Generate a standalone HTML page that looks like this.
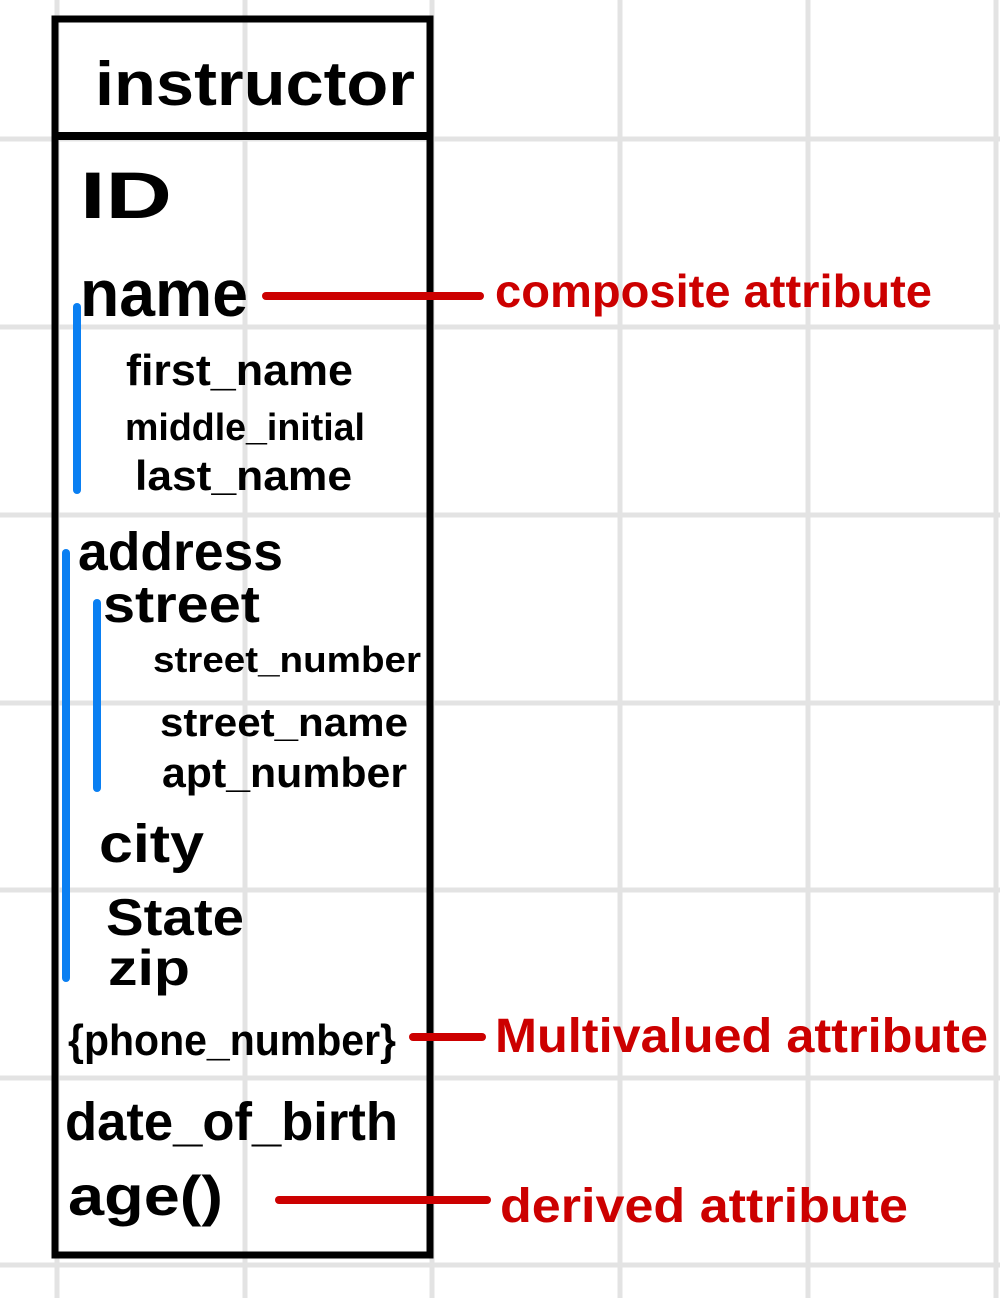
<!DOCTYPE html>
<html><head><style>
html,body{margin:0;padding:0;background:#fff;}
svg{display:block;}
text{font-family:"Liberation Sans",sans-serif;font-weight:bold;}
</style></head><body>
<svg width="1000" height="1298" viewBox="0 0 1000 1298" xmlns="http://www.w3.org/2000/svg">
<g stroke="#e3e3e3" stroke-width="5">
<line x1="57" y1="0" x2="57" y2="1298"/><line x1="245" y1="0" x2="245" y2="1298"/>
<line x1="432" y1="0" x2="432" y2="1298"/><line x1="620" y1="0" x2="620" y2="1298"/>
<line x1="808" y1="0" x2="808" y2="1298"/><line x1="996" y1="0" x2="996" y2="1298"/>
<line x1="0" y1="139" x2="1000" y2="139"/><line x1="0" y1="327" x2="1000" y2="327"/>
<line x1="0" y1="515" x2="1000" y2="515"/><line x1="0" y1="703" x2="1000" y2="703"/>
<line x1="0" y1="890" x2="1000" y2="890"/><line x1="0" y1="1078" x2="1000" y2="1078"/>
<line x1="0" y1="1265" x2="1000" y2="1265"/>
</g>
<rect x="55" y="19" width="375" height="1236" fill="none" stroke="#000" stroke-width="7"/>
<line x1="55" y1="136" x2="433" y2="136" stroke="#000" stroke-width="8"/>
<g stroke="#0a7ff2" stroke-width="8" stroke-linecap="round">
<line x1="77" y1="307" x2="77" y2="490"/>
<line x1="66" y1="553" x2="66" y2="978"/>
<line x1="97" y1="603" x2="97" y2="788"/>
</g>
<g stroke="#cc0000" stroke-width="8" stroke-linecap="round">
<line x1="266" y1="296" x2="480" y2="296"/>
<line x1="413" y1="1037" x2="482" y2="1037"/>
<line x1="279" y1="1200" x2="487" y2="1200"/>
</g>
<g fill="#000">
<text x="95" y="105" font-size="62" textLength="320" lengthAdjust="spacingAndGlyphs">instructor</text>
<text x="80" y="218" font-size="66" textLength="92" lengthAdjust="spacingAndGlyphs">ID</text>
<text x="80" y="316" font-size="66" textLength="168" lengthAdjust="spacingAndGlyphs">name</text>
<text x="126" y="385" font-size="44" textLength="227" lengthAdjust="spacingAndGlyphs">first_name</text>
<text x="125" y="440" font-size="38" textLength="240" lengthAdjust="spacingAndGlyphs">middle_initial</text>
<text x="135" y="490" font-size="42" textLength="217" lengthAdjust="spacingAndGlyphs">last_name</text>
<text x="78" y="570" font-size="54" textLength="205" lengthAdjust="spacingAndGlyphs">address</text>
<text x="103" y="622" font-size="52" textLength="157" lengthAdjust="spacingAndGlyphs">street</text>
<text x="153" y="672" font-size="36" textLength="268" lengthAdjust="spacingAndGlyphs">street_number</text>
<text x="160" y="736" font-size="40" textLength="248" lengthAdjust="spacingAndGlyphs">street_name</text>
<text x="162" y="787" font-size="42" textLength="245" lengthAdjust="spacingAndGlyphs">apt_number</text>
<text x="99" y="862" font-size="54" textLength="105" lengthAdjust="spacingAndGlyphs">city</text>
<text x="106" y="935" font-size="52" textLength="138" lengthAdjust="spacingAndGlyphs">State</text>
<text x="108" y="985" font-size="50" textLength="82" lengthAdjust="spacingAndGlyphs">zip</text>
<text x="68" y="1055" font-size="44" textLength="328" lengthAdjust="spacingAndGlyphs">{phone_number}</text>
<text x="65" y="1140" font-size="54" textLength="333" lengthAdjust="spacingAndGlyphs">date_of_birth</text>
<text x="68" y="1215" font-size="56" textLength="155" lengthAdjust="spacingAndGlyphs">age()</text>
</g>
<g fill="#cc0000">
<text x="495" y="307" font-size="46" textLength="437" lengthAdjust="spacingAndGlyphs">composite attribute</text>
<text x="495" y="1052" font-size="48" textLength="493" lengthAdjust="spacingAndGlyphs">Multivalued attribute</text>
<text x="500" y="1222" font-size="48" textLength="408" lengthAdjust="spacingAndGlyphs">derived attribute</text>
</g>
</svg>
</body></html>
